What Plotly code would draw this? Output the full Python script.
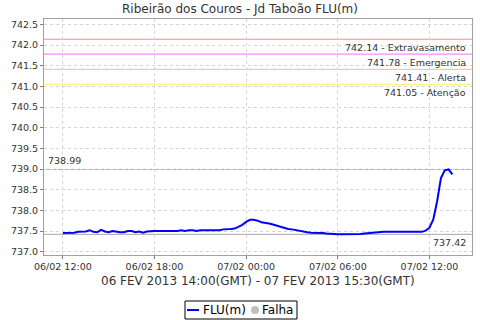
import pandas as pd
import plotly.graph_objects as go

title = "Ribeirão dos Couros - Jd Taboão FLU(m)"
x_title = "06 FEV 2013 14:00(GMT) - 07 FEV 2013 15:30(GMT)"
start_time = "2013-02-06 12:00"

flu = [
    737.45, 737.45, 737.45, 737.46, 737.48, 737.48, 737.49, 737.52, 737.48, 737.47,
    737.53, 737.49, 737.47, 737.50, 737.48, 737.47, 737.47, 737.50, 737.50, 737.47,
    737.49, 737.46, 737.49, 737.50, 737.50, 737.50, 737.50, 737.50, 737.50, 737.50,
    737.50, 737.52, 737.50, 737.52, 737.52, 737.50, 737.52, 737.52, 737.52, 737.52,
    737.52, 737.52, 737.54, 737.54, 737.55, 737.56, 737.60, 737.65, 737.72, 737.77,
    737.77, 737.75, 737.71, 737.70, 737.68, 737.66, 737.63, 737.61, 737.58, 737.55,
    737.54, 737.52, 737.50, 737.48, 737.47, 737.46, 737.46, 737.45, 737.45, 737.44,
    737.43, 737.42, 737.42, 737.42, 737.42, 737.42, 737.42, 737.42, 737.43, 737.44,
    737.45, 737.46, 737.47, 737.48, 737.48, 737.48, 737.48, 737.48, 737.48, 737.48,
    737.48, 737.48, 737.48, 737.48, 737.48, 737.51, 737.58, 737.78, 738.22, 738.78,
    738.97, 738.99, 738.87,
]
times = pd.date_range(start_time, periods=len(flu), freq="15min")

threshold_values = [742.14, 741.78, 741.41, 741.05]
threshold_names = ["Extravasamento", "Emergencia", "Alerta", "Atenção"]
threshold_colors = ["#f09090", "#ff88ff", "#f8c8a0", "#fff090"]

W, H = 480, 320
L, R, T, B = 44, 472, 19, 255


def px(x):
    return (x - L) / (R - L)


def py(y):
    return (B - y) / (B - T)


fig = go.Figure()
fig.add_trace(go.Scatter(x=times, y=flu, mode="lines",
                         line=dict(color="#0000ff", width=2), showlegend=False))

shapes = []
annotations = []
font_small = dict(family="DejaVu Sans", size=9.5, color="#333333")
for v, n, c in zip(threshold_values, threshold_names, threshold_colors):
    shapes.append(dict(type="line", xref="paper", x0=0, x1=1, yref="y", y0=v, y1=v,
                       line=dict(color=c, width=1.2), layer="below"))
    annotations.append(dict(text=f"{v:.2f} - {n}", xref="paper", x=px(468), xanchor="right",
                            yref="y", y=v, yanchor="top", yshift=-1, showarrow=False,
                            font=font_small))

vmax, vmin = max(flu), min(flu)
for v in (vmax, vmin):
    shapes.append(dict(type="line", xref="paper", x0=0, x1=1, yref="y", y0=v, y1=v,
                       line=dict(color="#a8a8a8", width=1), layer="below"))
annotations.append(dict(text=f"{vmax:.2f}", xref="paper", x=px(46), xanchor="left",
                        yref="y", y=vmax, yanchor="bottom", yshift=1, showarrow=False,
                        font=font_small))
annotations.append(dict(text=f"{vmin:.2f}", xref="paper", x=px(468), xanchor="right",
                        yref="y", y=vmin, yanchor="top", yshift=-1, showarrow=False,
                        font=font_small))

# x-axis title
annotations.append(dict(text=x_title, xref="paper", x=0.5, xanchor="center",
                        yref="paper", y=py(281), yanchor="middle", showarrow=False,
                        font=dict(family="DejaVu Sans", size=12, color="#333333")))

# manual legend
shapes.append(dict(type="rect", xref="paper", yref="paper", x0=px(185), x1=px(297),
                   y0=py(301), y1=py(319), line=dict(color="#000000", width=1),
                   fillcolor="white"))
shapes.append(dict(type="line", xref="paper", yref="paper", x0=px(187), x1=px(199),
                   y0=py(310), y1=py(310), line=dict(color="#0000ff", width=2)))
shapes.append(dict(type="circle", xref="paper", yref="paper", x0=px(251), x1=px(259),
                   y0=py(306), y1=py(314), line=dict(color="#c0c0c0", width=0),
                   fillcolor="#c0c0c0"))
annotations.append(dict(text="FLU(m)", xref="paper", x=px(201), xanchor="left",
                        yref="paper", y=py(310), yanchor="middle", showarrow=False,
                        font=dict(family="DejaVu Sans", size=12, color="#000000")))
annotations.append(dict(text="Falha", xref="paper", x=px(260), xanchor="left",
                        yref="paper", y=py(310), yanchor="middle", showarrow=False,
                        font=dict(family="DejaVu Sans", size=12, color="#000000")))

fig.update_layout(
    width=W, height=H,
    margin=dict(l=L, r=W - R, t=T, b=H - B),
    paper_bgcolor="white", plot_bgcolor="white",
    title=dict(text=title, x=0.5, xref="paper", xanchor="center",
               y=1 - 9 / H, yref="container", yanchor="middle",
               font=dict(family="DejaVu Sans", size=12, color="#333333")),
    shapes=shapes, annotations=annotations,
    showlegend=False,
)
fig.update_layout(title_x=0.5, title_xref="container")
fig.update_xaxes(
    range=["2013-02-06 10:46", "2013-02-07 14:47"],
    tick0="2013-02-06 00:00", dtick=6 * 3600 * 1000, tickformat="%d/%m %H:%M",
    showgrid=True, gridcolor="#d4d4d4", griddash="3px,3px", gridwidth=1,
    showline=True, linecolor="#a0a0a0", linewidth=1, mirror=True,
    ticks="outside", ticklen=3, tickcolor="#808080",
    tickfont=dict(family="DejaVu Sans", size=9.5, color="#333333"),
    zeroline=False,
)
fig.update_yaxes(
    range=[736.92, 742.63], dtick=0.5, tick0=737.0, tickformat=".1f",
    showgrid=True, gridcolor="#d4d4d4", griddash="3px,3px", gridwidth=1,
    showline=True, linecolor="#a0a0a0", linewidth=1, mirror=True,
    ticks="outside", ticklen=3, tickcolor="#808080",
    tickfont=dict(family="DejaVu Sans", size=9.5, color="#333333"),
    zeroline=False,
)
fig.write_html("out.html")
